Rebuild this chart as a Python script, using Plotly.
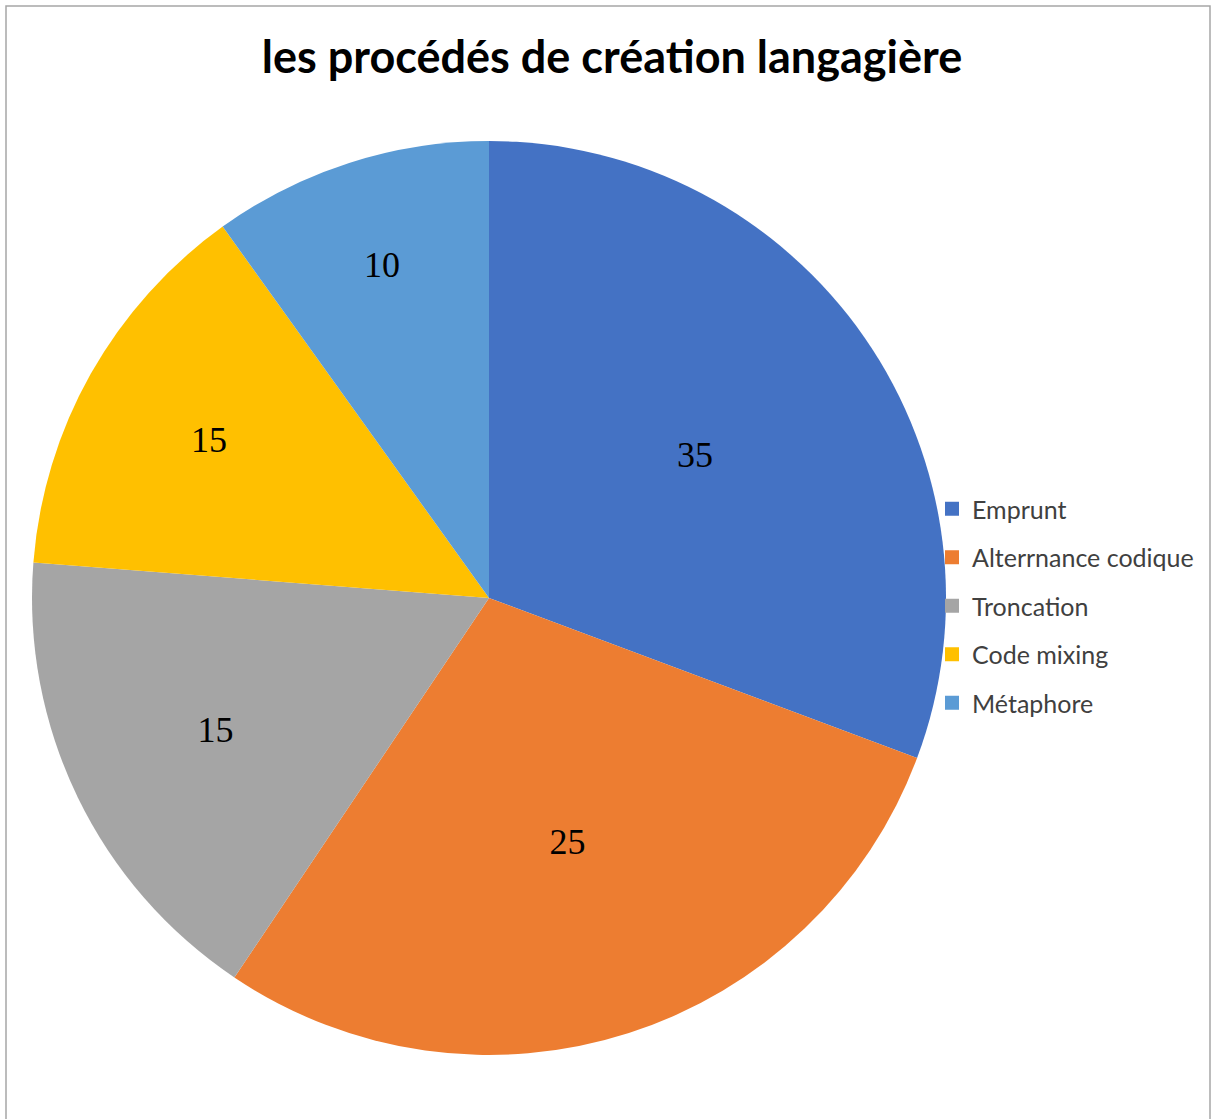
import plotly.graph_objects as go

categories = ["Emprunt", "Alterrnance codique", "Troncation", "Code mixing", "Métaphore"]
slice_values = [31, 29, 17, 14, 10]
label_texts = ["35", "25", "15", "15", "10"]
colors = ["#4472C4", "#ED7D31", "#A5A5A5", "#FFC000", "#5B9BD5"]

W, H = 1213, 1119
L, T, B, R = 32, 141, 64, 0
pw = W - L - R
ph = H - T - B

fig = go.Figure()
fig.add_trace(go.Pie(
    labels=categories,
    values=slice_values,
    text=label_texts,
    textinfo="text",
    textposition="inside",
    insidetextorientation="horizontal",
    sort=False,
    direction="clockwise",
    rotation=0,
    marker=dict(colors=colors, line=dict(color="white", width=0)),
    textfont=dict(family="Liberation Serif", size=36, color="black"),
    domain=dict(x=[0, 914 / pw], y=[0, 1]),
    hoverinfo="label+value",
    showlegend=False,
))

# legend entries (one group each, so the gap between entries can be set)
for name, col in zip(categories, colors):
    fig.add_trace(go.Scatter(
        x=[None], y=[None], mode="markers", name=name,
        legendgroup=name,
        marker=dict(symbol="square", size=14, color=col),
    ))

def px_x(x):
    return (x - L) / pw

def px_y(y):
    return 1 - (y - T) / ph

fig.add_shape(type="rect", xref="paper", yref="paper",
              x0=px_x(6), x1=px_x(1210), y0=px_y(1125), y1=px_y(6),
              line=dict(color="#A6A6A6", width=1.5), fillcolor="rgba(0,0,0,0)")

fig.update_layout(
    width=W, height=H,
    margin=dict(l=L, r=R, t=T, b=B),
    paper_bgcolor="white",
    plot_bgcolor="white",
    xaxis=dict(visible=False),
    yaxis=dict(visible=False),
    title=dict(text="<b>les procédés de création langagière</b>",
               x=612 / W, xanchor="center", y=1 - 57 / H, yanchor="middle",
               font=dict(family="Lato", size=45, color="black")),
    legend=dict(x=px_x(932), y=px_y(486), xanchor="left", yanchor="top",
                font=dict(family="Lato", size=25, color="#404040"),
                tracegroupgap=13,
                bgcolor="rgba(0,0,0,0)"),
)

fig.write_html("out.html", config={"displayModeBar": False},
               post_script="document.body.style.margin='0';")
